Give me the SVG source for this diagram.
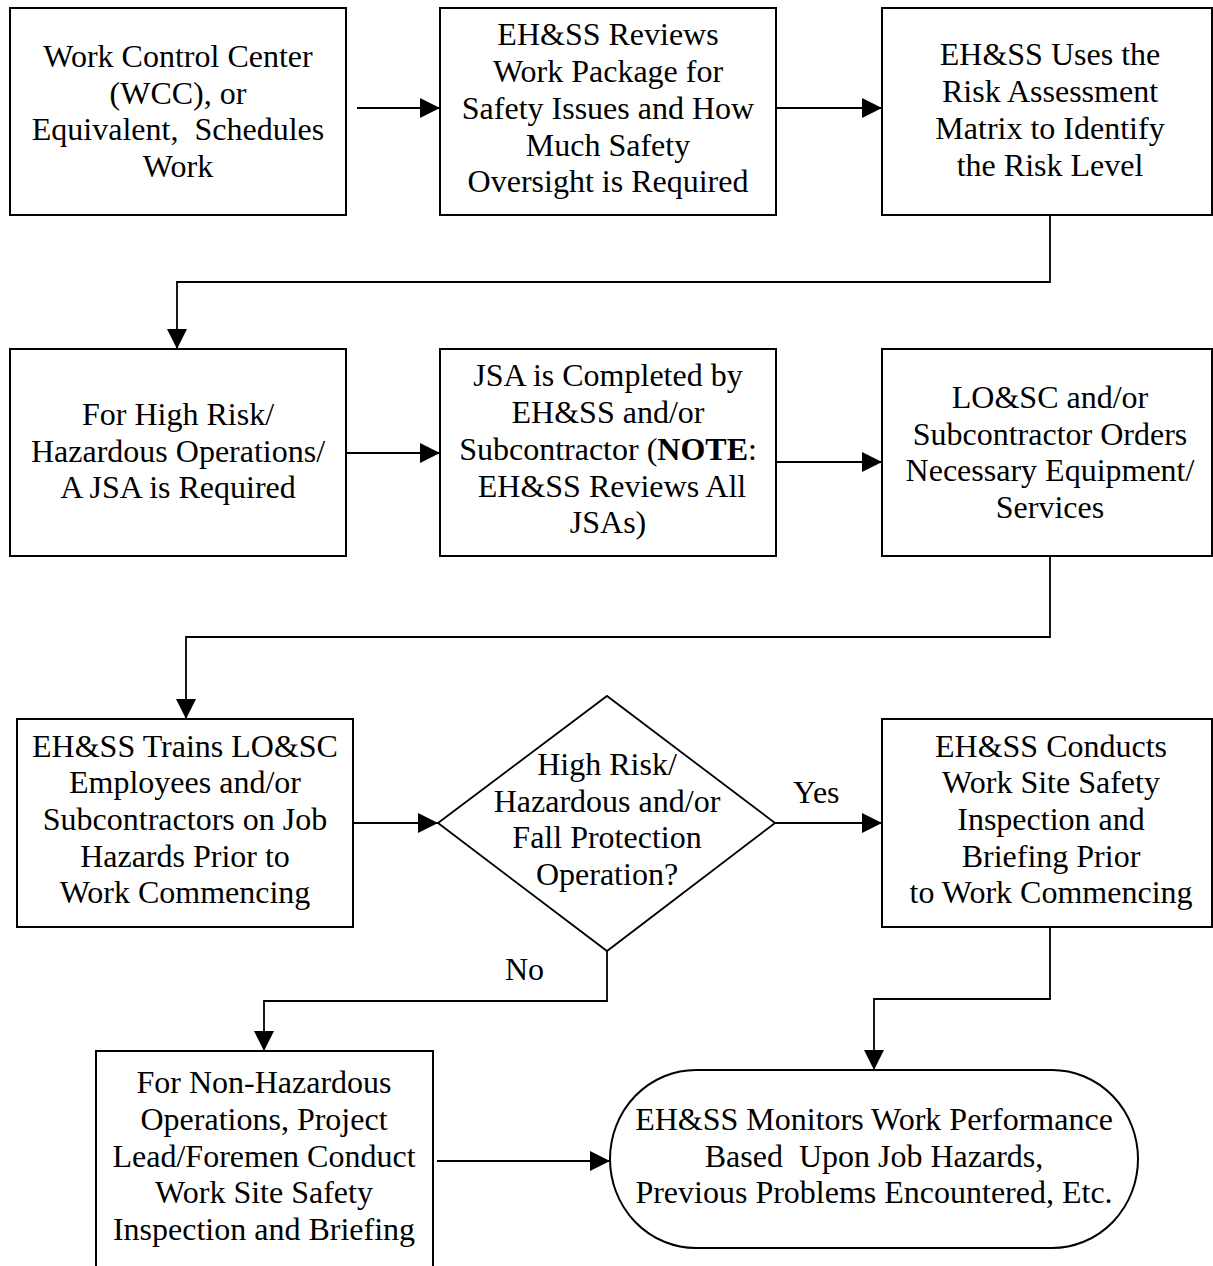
<svg xmlns="http://www.w3.org/2000/svg" width="1213" height="1266" viewBox="0 0 1213 1266">
<style>
.box{fill:#fff;stroke:#000;stroke-width:2}
.t{font-family:"Liberation Serif","Times New Roman",serif;font-size:32px;fill:#000;text-anchor:middle}
.lbl{font-family:"Liberation Serif","Times New Roman",serif;font-size:32px;fill:#000}
.c{fill:none;stroke:#000;stroke-width:1.8}
</style>
<defs>
<marker id="ah" markerUnits="userSpaceOnUse" markerWidth="20" markerHeight="20" refX="20" refY="10" orient="auto">
<path d="M0,0 L20,10 L0,20 z" fill="#000"/>
</marker>
</defs>
<rect width="1213" height="1266" fill="#fff"/>

<g id="connectors">
<path class="c" d="M357,108 H440" marker-end="url(#ah)"/>
<path class="c" d="M776,108 H882" marker-end="url(#ah)"/>
<path class="c" d="M1050,215 V282 H177 V349" marker-end="url(#ah)"/>
<path class="c" d="M346,453 H440" marker-end="url(#ah)"/>
<path class="c" d="M776,462 H882" marker-end="url(#ah)"/>
<path class="c" d="M1050,556 V637 H186 V719" marker-end="url(#ah)"/>
<path class="c" d="M353,823 H438" marker-end="url(#ah)"/>
<path class="c" d="M775,823 H882" marker-end="url(#ah)"/>
<path class="c" d="M607,951 V1001 H264 V1051" marker-end="url(#ah)"/>
<path class="c" d="M1050,927 V999 H874 V1070" marker-end="url(#ah)"/>
<path class="c" d="M437,1161 H610" marker-end="url(#ah)"/>
<text class="lbl" x="793" y="803">Yes</text>
<text class="lbl" x="505" y="980">No</text>
</g>

<g id="n1">
<rect class="box" x="10" y="8" width="336" height="207"/>
<text class="t" x="178" y="67">Work Control Center</text>
<text class="t" x="178" y="104">(WCC), or</text>
<text class="t" x="178" y="140" xml:space="preserve">Equivalent,  Schedules</text>
<text class="t" x="178" y="177">Work</text>
</g>

<g id="n2">
<rect class="box" x="440" y="8" width="336" height="207"/>
<text class="t" x="608" y="45">EH&amp;SS Reviews</text>
<text class="t" x="608" y="82">Work Package for</text>
<text class="t" x="608" y="119">Safety Issues and How</text>
<text class="t" x="608" y="156">Much Safety</text>
<text class="t" x="608" y="192">Oversight is Required</text>
</g>

<g id="n3">
<rect class="box" x="882" y="8" width="330" height="207"/>
<text class="t" x="1050" y="65">EH&amp;SS Uses the</text>
<text class="t" x="1050" y="102">Risk Assessment</text>
<text class="t" x="1050" y="139">Matrix to Identify</text>
<text class="t" x="1050" y="176">the Risk Level</text>
</g>

<g id="n4">
<rect class="box" x="10" y="349" width="336" height="207"/>
<text class="t" x="178" y="425">For High Risk/</text>
<text class="t" x="178" y="462">Hazardous Operations/</text>
<text class="t" x="178" y="498">A JSA is Required</text>
</g>

<g id="n5">
<rect class="box" x="440" y="349" width="336" height="207"/>
<text class="t" x="608" y="386">JSA is Completed by</text>
<text class="t" x="608" y="423">EH&amp;SS and/or</text>
<text class="t" x="608" y="460">Subcontractor (<tspan font-weight="bold">NOTE</tspan>:</text>
<text class="t" x="612" y="497">EH&amp;SS Reviews All</text>
<text class="t" x="608" y="533">JSAs)</text>
</g>

<g id="n6">
<rect class="box" x="882" y="349" width="330" height="207"/>
<text class="t" x="1050" y="408">LO&amp;SC and/or</text>
<text class="t" x="1050" y="445">Subcontractor Orders</text>
<text class="t" x="1050" y="481">Necessary Equipment/</text>
<text class="t" x="1050" y="518">Services</text>
</g>

<g id="n7">
<rect class="box" x="17" y="719" width="336" height="208"/>
<text class="t" x="185" y="757">EH&amp;SS Trains LO&amp;SC</text>
<text class="t" x="185" y="793">Employees and/or</text>
<text class="t" x="185" y="830">Subcontractors on Job</text>
<text class="t" x="185" y="867">Hazards Prior to</text>
<text class="t" x="185" y="903">Work Commencing</text>
</g>

<g id="n8">
<path class="box" d="M438,823 L607,696 L775,823 L607,951 Z" style="stroke-width:1.8"/>
<text class="t" x="607" y="775">High Risk/</text>
<text class="t" x="607" y="812">Hazardous and/or</text>
<text class="t" x="607" y="848">Fall Protection</text>
<text class="t" x="607" y="885">Operation?</text>
</g>

<g id="n9">
<rect class="box" x="882" y="719" width="330" height="208"/>
<text class="t" x="1051" y="757">EH&amp;SS Conducts</text>
<text class="t" x="1051" y="793">Work Site Safety</text>
<text class="t" x="1051" y="830">Inspection and</text>
<text class="t" x="1051" y="867">Briefing Prior</text>
<text class="t" x="1051" y="903">to Work Commencing</text>
</g>

<g id="n10">
<rect class="box" x="96" y="1051" width="337" height="240"/>
<text class="t" x="264" y="1093">For Non-Hazardous</text>
<text class="t" x="264" y="1130">Operations, Project</text>
<text class="t" x="264" y="1167">Lead/Foremen Conduct</text>
<text class="t" x="264" y="1203">Work Site Safety</text>
<text class="t" x="264" y="1240">Inspection and Briefing</text>
</g>

<g id="n11">
<rect class="box" x="610" y="1070" width="528" height="178" rx="86" ry="89"/>
<text class="t" x="874" y="1130">EH&amp;SS Monitors Work Performance</text>
<text class="t" x="874" y="1167" xml:space="preserve">Based  Upon Job Hazards,</text>
<text class="t" x="874" y="1203">Previous Problems Encountered, Etc.</text>
</g>
</svg>
